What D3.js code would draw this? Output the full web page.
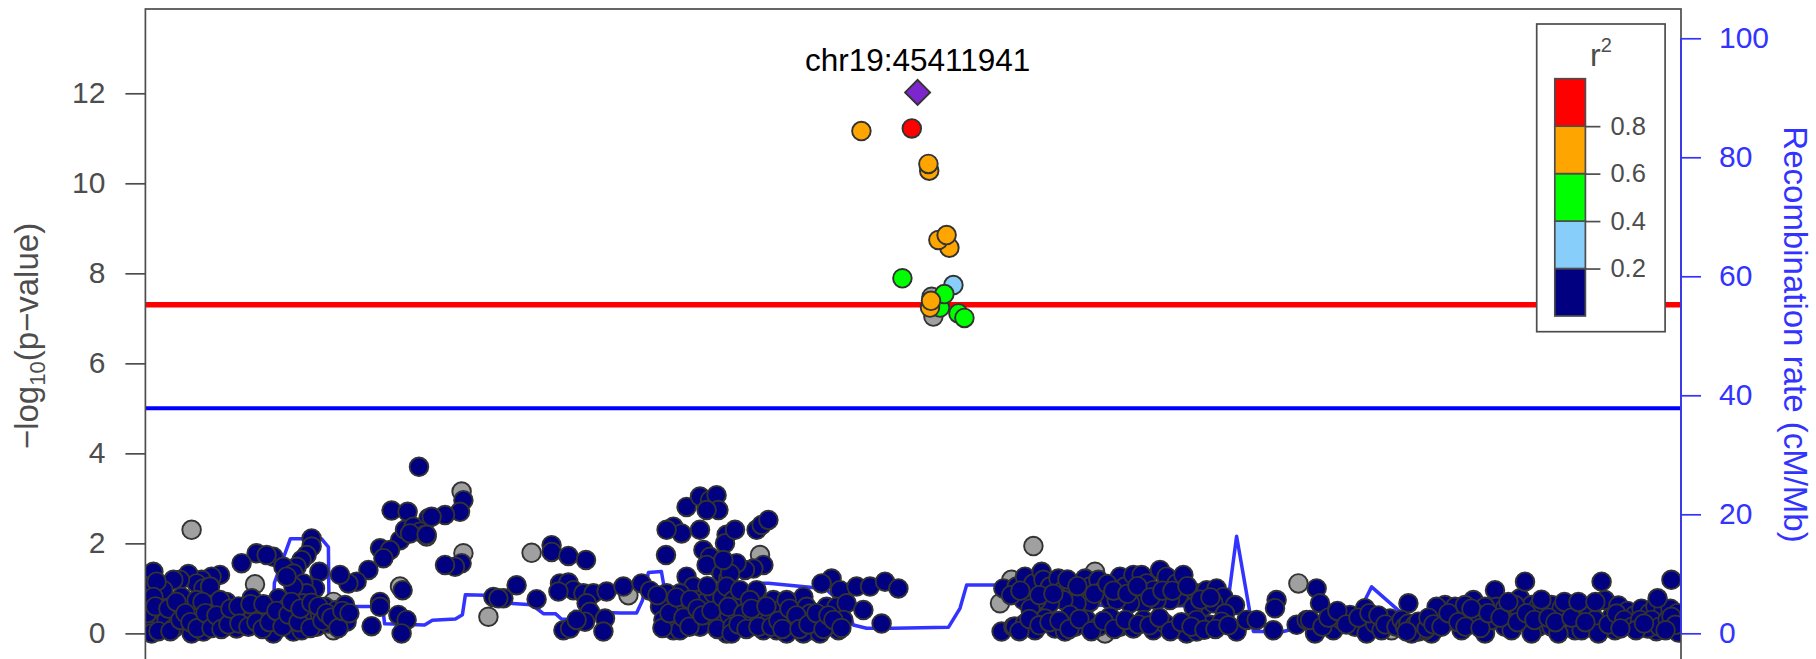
<!DOCTYPE html>
<html>
<head>
<meta charset="utf-8">
<script src="https://cdn.jsdelivr.net/npm/d3@7"></script>
<style>
  html, body { margin: 0; padding: 0; background: #fff; }
  svg text { font-family: "Liberation Sans", Arial, Helvetica, sans-serif; }
</style>
</head>
<body>
<svg id="chart" width="1816" height="659"></svg>
<script>
// positions are kb from the left edge of the plotted region
var regionKb = [0, 767.8];
var leadLabel = "chr19:45411941";
var leadKb = 386.1, leadLogP = 12.02;

var pTicks = [0, 2, 4, 6, 8, 10, 12];
var rateTicks = [0, 20, 40, 60, 80, 100];
var ldTicks = [0.2, 0.4, 0.6, 0.8];
var ldBreaks = [0.2, 0.4, 0.6, 0.8];
var ldColors = ["#000080", "#87CEFA", "#00FF00", "#FFA500", "#FF0000"];
var gwsLine = 7.301, suggestiveLine = 5;

// SNPs with r2 >= 0.2 : [kb, -log10 p, r2]
var snpsLD = [
  [358.0, 11.16, 0.72], [383.2, 11.22, 0.87], [391.5, 10.43, 0.75], [391.9, 10.28, 0.74],
  [396.5, 8.74, 0.66], [400.6, 8.85, 0.68], [402.0, 8.57, 0.65], [378.5, 7.89, 0.52],
  [404.0, 7.74, 0.35], [399.5, 7.54, 0.48], [397.3, 7.24, 0.45], [406.5, 7.11, 0.44],
  [409.5, 7.01, 0.47], [392.3, 7.24, 0.61], [392.8, 7.39, 0.62]
];

// SNPs with no LD information : [kb, -log10 p]
var snpsNoLD = [
  [23.1, 2.30], [54.8, 1.09], [12.3, 0.70], [94.0, 0.07], [127.3, 1.04], [94.0, 0.70],
  [158.1, 3.15], [159.0, 1.78], [193.1, 1.79], [171.5, 0.37], [241.5, 0.85], [140.6, 2.15],
  [307.3, 1.74], [433.0, 1.19], [427.3, 0.67], [444.0, 1.94], [474.8, 1.37], [576.5, 1.11],
  [443.1, 0.63], [479.8, 0.00], [623.1, 0.07], [393.1, 7.48], [394.0, 7.04]
];

// SNPs with r2 < 0.2 : [kb, -log10 p]
var snpsLowLD = [
  [136.8, 3.70], [123.1, 2.73], [131.1, 2.70], [141.5, 2.56], [127.3, 2.07], [129.8, 2.30],
  [134.0, 2.37], [137.3, 2.26], [139.8, 2.19], [132.3, 2.22], [117.3, 1.89], [122.3, 1.85],
  [119.0, 1.67], [111.5, 1.41], [105.6, 1.15], [101.5, 1.11], [97.3, 1.30], [83.1, 2.11],
  [83.1, 1.93], [80.6, 1.74], [78.1, 1.63], [75.6, 1.48], [64.0, 1.70], [55.6, 1.78],
  [60.6, 1.74], [48.1, 1.56], [69.0, 1.48], [74.0, 1.33], [87.0, 1.37], [84.8, 1.00],
  [79.0, 1.11], [80.6, 0.89], [74.0, 1.04], [70.6, 1.26], [37.3, 1.30], [33.1, 1.26],
  [28.1, 1.19], [21.5, 1.32], [25.6, 1.11], [17.3, 1.19], [14.0, 1.19], [9.0, 0.96],
  [4.0, 1.37], [1.5, 1.04], [5.6, 1.15], [29.0, 1.00], [32.3, 1.04], [53.1, 0.78],
  [117.3, 0.70], [117.3, 0.59], [113.1, 0.16], [128.6, 0.96], [126.5, 0.41], [130.6, 0.30],
  [128.1, 0.00],
  [0.6, 0.74], [2.3, 0.30], [3.1, 0.00], [7.3, 0.52], [8.1, 0.19], [10.6, 0.30], [14.0, 0.11],
  [16.5, 0.44], [19.0, 0.19], [21.5, 0.63], [23.1, 0.00], [24.8, 0.30], [27.3, 0.52],
  [29.0, 0.04], [31.5, 0.33], [34.0, 0.59], [36.5, 0.22], [39.0, 0.48], [40.6, 0.70],
  [43.1, 0.30], [45.6, 0.11], [48.1, 0.37], [50.6, 0.52], [54.0, 0.41], [57.3, 0.48],
  [60.6, 0.44], [63.1, 0.63], [64.0, 0.00], [66.5, 0.78], [67.3, 0.37], [70.6, 0.56],
  [72.3, 0.22], [74.0, 0.04], [75.6, 0.41], [78.1, 0.07], [79.0, 0.67], [81.5, 0.30],
  [84.0, 0.48], [85.6, 0.15], [87.3, 0.41], [89.8, 0.59], [91.5, 0.22], [95.6, 0.52],
  [97.3, 0.37], [99.8, 0.63], [100.6, 0.26], [4.0, 0.81], [18.1, 0.81], [25.6, 0.74],
  [37.3, 0.74],
  [1.0, 0.45], [5.0, 0.60], [6.5, 0.05], [11.5, 0.55], [12.5, 0.05], [15.5, 0.70], [17.5, 0.30],
  [20.0, 0.45], [22.5, 0.25], [26.0, 0.12], [28.5, 0.70], [30.0, 0.45], [33.0, 0.12],
  [35.5, 0.40], [38.0, 0.10], [41.5, 0.20], [42.5, 0.55], [46.5, 0.60], [47.0, 0.22],
  [51.5, 0.15], [52.5, 0.65], [55.5, 0.25], [58.5, 0.10], [59.0, 0.65], [62.0, 0.25],
  [65.5, 0.50], [68.5, 0.15], [71.5, 0.42], [73.0, 0.70], [76.5, 0.25], [77.5, 0.55],
  [82.5, 0.12], [83.0, 0.68], [86.5, 0.60], [88.5, 0.28], [90.5, 0.45], [93.0, 0.35],
  [96.5, 0.12], [98.5, 0.50], [102.0, 0.45],
  [159.0, 2.96], [157.3, 2.70], [149.8, 2.63], [143.1, 2.59], [140.6, 2.19], [158.1, 1.56],
  [154.8, 1.48], [149.8, 1.52], [203.1, 1.96], [203.1, 1.81], [211.5, 1.72], [220.3, 1.63],
  [185.6, 1.07], [174.0, 0.81], [179.0, 0.78], [176.5, 0.78], [195.6, 0.76], [207.3, 1.11],
  [211.5, 1.13], [214.0, 0.96], [206.5, 0.93], [219.0, 0.89], [224.0, 0.89], [230.6, 0.93],
  [220.6, 0.67], [222.3, 0.48], [219.8, 0.26], [229.8, 0.33], [229.0, 0.04], [209.0, 0.07],
  [212.3, 0.11], [215.6, 0.30], [239.0, 1.04], [248.1, 1.11], [252.3, 0.95], [260.3, 1.74],
  [270.6, 2.81], [277.3, 3.04], [282.3, 2.96], [285.6, 3.07], [286.5, 2.74], [280.6, 2.74],
  [264.0, 2.37], [268.1, 2.22], [277.3, 2.30], [290.6, 2.19], [289.8, 2.00], [279.0, 1.85],
  [282.3, 1.70], [285.6, 1.48], [280.6, 1.52], [288.1, 1.33], [291.5, 1.22], [270.6, 1.26],
  [274.0, 1.04], [267.3, 0.89], [275.6, 0.74], [270.6, 0.59], [264.0, 0.59], [260.6, 0.89],
  [257.3, 0.59], [259.0, 0.30], [264.0, 0.07], [267.3, 0.07], [274.0, 0.44], [279.0, 0.67],
  [284.0, 0.89], [287.3, 0.59], [290.6, 0.89], [290.6, 0.00], [282.3, 0.30], [277.3, 0.15],
  [285.6, 0.30], [260.6, 2.30],
  [256.0, 0.85], [258.5, 0.12], [262.0, 0.45], [265.5, 0.80], [269.0, 0.35], [272.0, 0.15],
  [272.5, 0.75], [276.0, 0.55], [278.5, 0.40], [281.0, 1.05], [283.0, 0.50], [286.0, 0.10],
  [288.5, 0.80], [292.0, 0.40], [293.5, 0.15],
  [294.8, 2.30], [305.6, 2.30], [308.1, 2.41], [311.5, 2.52], [309.0, 1.52], [304.0, 1.44],
  [299.8, 1.41], [295.6, 1.56], [292.3, 1.33], [290.6, 1.04], [294.0, 0.74], [297.3, 0.96],
  [291.5, 0.59], [305.6, 0.96], [302.3, 0.74], [307.3, 0.52], [304.0, 0.37], [293.1, 0.00],
  [314.0, 0.74], [317.3, 0.52], [312.3, 0.30], [320.6, 0.37], [309.0, 0.07], [315.6, 0.07],
  [324.0, 0.15], [329.0, 0.81], [330.6, 0.59], [327.3, 0.30], [334.0, 0.07], [337.3, 0.30],
  [340.6, 0.59], [343.1, 1.22], [338.1, 1.11], [347.3, 0.96], [345.6, 0.59], [346.5, 0.07],
  [350.6, 0.67], [355.6, 1.04], [362.3, 1.04], [369.8, 1.15], [376.5, 1.00], [359.0, 0.52],
  [368.1, 0.22], [429.0, 1.00], [428.1, 0.04], [434.0, 0.15], [435.6, 0.89], [299.0, 0.44],
  [320.6, 0.74], [332.3, 0.44], [320.6, 0.00], [329.0, 0.00], [337.3, 0.00], [342.3, 0.19],
  [349.0, 0.30], [289.0, 1.63],
  [296.5, 0.20], [300.5, 0.10], [303.0, 0.55], [306.5, 0.15], [310.5, 0.60], [313.0, 0.15],
  [316.5, 0.28], [318.5, 0.10], [322.0, 0.55], [325.5, 0.40], [327.0, 0.10], [331.5, 0.20],
  [335.5, 0.45], [339.0, 0.10], [341.5, 0.40], [344.0, 0.30], [348.0, 0.12],
  [435.6, 1.04], [439.8, 1.26], [444.0, 1.11], [448.1, 1.37], [449.0, 1.19], [452.3, 1.04],
  [456.5, 1.22], [459.0, 0.96], [463.1, 1.07], [467.3, 0.89], [469.8, 1.22], [472.3, 1.04],
  [476.5, 1.19], [479.0, 0.96], [482.3, 0.74], [487.3, 1.26], [489.8, 1.04], [494.0, 1.30],
  [498.1, 1.30], [500.6, 1.11], [504.0, 0.96], [507.3, 1.41], [510.6, 1.26], [515.6, 1.11],
  [519.0, 1.30], [516.5, 0.81], [512.3, 0.74], [505.6, 0.74], [499.0, 0.67], [492.3, 0.67],
  [485.6, 0.74], [472.3, 0.70], [465.6, 0.67], [459.0, 0.74], [452.3, 0.67], [445.6, 0.74],
  [439.0, 0.74], [525.6, 0.89], [530.6, 0.96], [535.6, 1.00], [539.0, 0.81], [544.8, 0.63],
  [529.0, 0.59], [534.0, 0.67], [524.0, 0.59], [539.8, 0.44], [432.8, 0.85],
  [437.5, 0.95], [442.5, 0.55], [447.0, 0.85], [454.0, 0.88], [461.0, 1.20], [466.0, 1.05],
  [474.5, 0.88], [481.0, 1.10], [484.0, 0.95], [491.0, 0.88], [496.0, 1.05], [502.5, 0.80],
  [508.5, 0.95], [513.5, 0.95], [521.0, 1.05], [527.5, 0.75], [532.5, 0.80],
  [434.8, 0.15], [439.8, 0.22], [444.8, 0.07], [449.8, 0.33], [454.8, 0.11], [459.8, 0.04],
  [464.8, 0.15], [470.6, 0.30], [476.5, 0.15], [487.3, 0.15], [494.0, 0.11], [499.0, 0.30],
  [504.0, 0.07], [509.8, 0.22], [515.6, 0.11], [520.6, 0.00], [525.6, 0.04], [532.3, 0.19],
  [538.1, 0.26], [545.6, 0.04], [550.6, 0.30], [555.6, 0.30], [564.0, 0.07], [565.6, 0.74],
  [564.8, 0.56], [575.6, 0.19], [580.6, 0.30], [584.8, 0.00], [585.6, 1.00], [587.3, 0.67],
  [482.3, 0.37], [462.3, 0.41], [525.6, 0.30],
  [437.0, 0.05], [442.0, 0.32], [447.0, 0.18], [452.0, 0.25], [457.0, 0.28], [462.0, 0.10],
  [467.0, 0.32], [473.0, 0.05], [479.0, 0.28], [484.5, 0.10], [490.0, 0.30], [496.5, 0.20],
  [502.0, 0.18], [507.0, 0.35], [512.5, 0.05], [518.0, 0.25], [523.0, 0.15], [529.5, 0.08],
  [535.0, 0.10], [541.5, 0.18],
  [582.3, 0.30], [594.0, 0.07], [598.1, 0.30], [602.3, 0.41], [604.8, 0.15], [609.8, 0.56],
  [610.6, 0.00], [614.8, 0.22], [618.1, 0.07], [622.3, 0.33], [631.5, 0.67], [643.1, 0.00],
  [646.5, 0.44], [649.8, 0.63], [653.1, 0.30], [658.1, 0.07], [661.5, 0.41], [664.0, 0.74],
  [666.5, 0.30], [669.8, 0.00], [674.8, 0.96], [675.6, 0.59], [679.8, 0.15], [683.1, 0.44],
  [687.3, 0.78], [689.8, 1.15], [688.1, 0.30], [693.1, 0.63], [696.5, 0.15], [699.8, 0.59],
  [703.1, 0.15], [706.5, 0.52], [711.5, 0.48], [714.8, 0.07], [718.1, 0.56], [723.1, 0.44],
  [728.1, 1.15], [729.8, 0.74], [733.1, 0.37], [734.8, 0.07], [645.6, 0.59], [654.8, 0.59],
  [659.8, 0.63], [669.8, 0.59], [679.8, 0.56], [684.8, 0.63], [696.5, 0.59], [703.1, 0.63],
  [708.1, 0.56], [721.5, 0.59], [724.8, 0.30], [673.1, 0.30], [683.1, 0.07], [693.1, 0.00],
  [706.5, 0.00], [718.1, 0.07], [726.5, 0.00],
  [588.5, 0.15], [591.5, 0.35], [596.0, 0.50], [600.5, 0.20], [606.5, 0.35], [612.0, 0.45],
  [616.5, 0.40], [620.0, 0.20], [625.5, 0.15],
  [628.1, 0.30], [629.8, 0.15], [631.5, 0.22], [633.1, 0.07], [634.8, 0.19], [636.5, 0.04],
  [638.1, 0.15], [639.8, 0.07], [633.1, 0.00], [636.5, 0.26], [630.6, 0.04], [640.6, 0.11],
  [641.5, 0.35], [644.0, 0.20], [648.0, 0.15], [651.5, 0.45], [656.5, 0.25], [660.0, 0.15],
  [663.0, 0.55], [667.5, 0.12], [671.5, 0.45], [677.5, 0.35], [681.5, 0.70], [686.0, 0.25],
  [690.5, 0.45], [694.5, 0.30], [698.0, 0.75], [701.5, 0.35], [705.0, 0.25], [709.5, 0.70],
  [713.0, 0.35], [716.5, 0.70], [720.0, 0.25], [725.0, 0.70], [731.5, 0.20], [736.5, 0.62],
  [741.0, 0.50], [744.5, 0.40], [748.0, 0.55], [752.0, 0.45], [755.0, 0.60], [759.0, 0.50],
  [762.5, 0.55], [766.0, 0.45], [755.5, 0.05], [766.5, 0.02],
  [756.1, 0.78], [763.0, 1.19], [735.5, 0.44], [739.4, 0.30], [743.4, 0.15], [747.3, 0.30],
  [751.2, 0.11], [753.2, 0.30], [757.1, 0.15], [761.1, 0.30], [763.0, 0.37], [765.0, 0.19],
  [760.1, 0.07], [745.3, 0.07], [737.5, 0.11], [749.3, 0.22]
];

// recombination rate : [kb, cM/Mb]
var recombRate = [
  [0, 0.6], [49.7, 0.6], [63.5, 0.6], [64.5, 8.5], [72.5, 15.9], [88.0, 15.9], [91.5, 14.5],
  [91.8, 4.5], [118.6, 4.5], [119.6, 1.6], [139.6, 1.4], [143.5, 2.2], [155.0, 2.4],
  [158.5, 3.1], [160.0, 6.5], [170.0, 6.4], [183.6, 5.0], [193.2, 4.8], [199.0, 3.3],
  [205.0, 3.3], [208.0, 2.4], [213.5, 2.3], [214.5, 3.7], [237.3, 3.4], [245.6, 3.4],
  [248.5, 5.5], [251.5, 10.2], [258.0, 10.4], [259.5, 7.5], [266.0, 2.0], [292.3, 2.0],
  [298.0, 1.7], [300.6, 4.5], [304.0, 8.4], [311.5, 8.4], [340.0, 7.5], [350.0, 4.5],
  [354.0, 1.4], [360.6, 0.84], [374.0, 0.84], [401.5, 1.0], [407.3, 4.2], [410.6, 8.1],
  [426.3, 8.1], [434.0, 6.0], [438.0, 4.2], [441.0, 4.8], [541.0, 4.6], [545.6, 16.3],
  [552.3, 3.4], [554.0, 0.3], [569.0, 0.3], [575.0, 0.8], [600.0, 1.2], [609.8, 5.6],
  [613.1, 7.8], [628.1, 3.4], [640.0, 1.0], [767.8, 0.8]
];

var svg = d3.select("#chart"),
    plot = { left: 145.4, right: 1681, top: 9, bottom: 663 },
    axisGrey = "#4d4d4d",
    rateBlue = "#3333ff",
    pointR = 9.3;

var x = d3.scaleLinear().domain(regionKb).range([plot.left, plot.right]),
    y = d3.scaleLinear().domain([-0.658, 13.873]).range([plot.bottom, plot.top]),
    yRate = d3.scaleLinear().domain([-4.99, 104.92]).range([plot.bottom, plot.top]),
    ldColor = d3.scaleThreshold().domain(ldBreaks).range(ldColors);

svg.append("defs").append("clipPath")
    .attr("id", "plot-clip")
  .append("rect")
    .attr("x", plot.left)
    .attr("y", plot.top)
    .attr("width", plot.right - plot.left)
    .attr("height", plot.bottom - plot.top);

var g = svg.append("g").attr("clip-path", "url(#plot-clip)");

// threshold lines
g.append("line")
    .attr("x1", plot.left).attr("x2", plot.right)
    .attr("y1", y(gwsLine)).attr("y2", y(gwsLine))
    .attr("stroke", "#ff0000").attr("stroke-width", 5.5);

g.append("line")
    .attr("x1", plot.left).attr("x2", plot.right)
    .attr("y1", y(suggestiveLine)).attr("y2", y(suggestiveLine))
    .attr("stroke", "#0000ff").attr("stroke-width", 4);

// recombination rate
g.append("path")
    .datum(recombRate)
    .attr("fill", "none")
    .attr("stroke", rateBlue)
    .attr("stroke-width", 3.5)
    .attr("stroke-linejoin", "round")
    .attr("d", d3.line().x(function (d) { return x(d[0]); }).y(function (d) { return yRate(d[1]); }));

function drawPoints(data, fill) {
    g.append("g").selectAll("circle")
        .data(data)
        .enter().append("circle")
        .attr("cx", function (d) { return x(d[0]); })
        .attr("cy", function (d) { return y(d[1]); })
        .attr("r", pointR)
        .attr("fill", fill)
        .attr("stroke", "#333333")
        .attr("stroke-width", 1.9);
}

drawPoints(snpsNoLD, "#a0a0a0");
drawPoints(snpsLowLD, ldColors[0]);
drawPoints(snpsLD.slice().sort(function (a, b) { return a[2] - b[2]; }), function (d) { return ldColor(d[2]); });

// lead SNP
g.append("path")
    .attr("transform", "translate(" + x(leadKb) + "," + y(leadLogP) + ")")
    .attr("d", "M0,-12.5L12.5,0L0,12.5L-12.5,0Z")
    .attr("fill", "#7d26cd")
    .attr("stroke", "#333333")
    .attr("stroke-width", 1.9);

svg.append("text")
    .attr("x", x(leadKb))
    .attr("y", y(leadLogP) - 21.6)
    .attr("text-anchor", "middle")
    .attr("font-size", 31.5)
    .attr("fill", "#000")
    .text(leadLabel);

// box
svg.append("rect")
    .attr("x", plot.left)
    .attr("y", plot.top)
    .attr("width", plot.right - plot.left)
    .attr("height", plot.bottom - plot.top)
    .attr("fill", "none")
    .attr("stroke", axisGrey)
    .attr("stroke-width", 1.7);

// left axis
var leftAxis = svg.append("g")
    .attr("transform", "translate(" + plot.left + ",0)")
    .call(d3.axisLeft(y).tickValues(pTicks).tickSize(20).tickPadding(20).tickSizeOuter(0));
leftAxis.select(".domain").remove();
leftAxis.selectAll("line").attr("stroke", axisGrey).attr("stroke-width", 1.7);
leftAxis.selectAll("text")
    .attr("fill", axisGrey)
    .attr("font-size", 30)
    .attr("font-family", "Liberation Sans, Arial, sans-serif");

svg.append("text")
    .attr("transform", "translate(38," + ((plot.top + plot.bottom) / 2) + ") rotate(-90)")
    .attr("text-anchor", "middle")
    .attr("font-size", 33)
    .attr("fill", axisGrey)
    .call(function (t) {
        t.append("tspan").text("\u2212log");
        t.append("tspan").attr("font-size", 22).attr("dy", 7).text("10");
        t.append("tspan").attr("dy", -7).text("(p\u2212value)");
    });

// right axis
var rightAxis = svg.append("g")
    .attr("transform", "translate(" + plot.right + ",0)")
    .call(d3.axisRight(yRate).tickValues(rateTicks).tickSize(20).tickPadding(18).tickSizeOuter(0));
rightAxis.select(".domain").remove();
rightAxis.append("line")
    .attr("y1", yRate(rateTicks[0]))
    .attr("y2", yRate(rateTicks[rateTicks.length - 1]))
    .attr("stroke", rateBlue)
    .attr("stroke-width", 1.7);
rightAxis.selectAll(".tick line").attr("stroke", rateBlue).attr("stroke-width", 1.7);
rightAxis.selectAll("text")
    .attr("fill", rateBlue)
    .attr("font-size", 30)
    .attr("font-family", "Liberation Sans, Arial, sans-serif");

svg.append("text")
    .attr("transform", "translate(1784," + ((plot.top + plot.bottom) / 2 - 1.5) + ") rotate(90)")
    .attr("text-anchor", "middle")
    .attr("font-size", 33)
    .attr("fill", rateBlue)
    .text("Recombination rate (cM/Mb)");

// r2 legend
var legend = { x: 1536.7, y: 24, w: 128.4, h: 307.7, barX: 1554.8, barW: 30.6 };
var ly = d3.scaleLinear().domain([0, 1]).range([316, 78.7]);
var bands = [0].concat(ldBreaks).map(function (lo, i, a) {
    return { lo: lo, hi: i + 1 < a.length ? a[i + 1] : 1, color: ldColors[i] };
});

svg.append("rect")
    .attr("x", legend.x).attr("y", legend.y)
    .attr("width", legend.w).attr("height", legend.h)
    .attr("fill", "#fff")
    .attr("stroke", axisGrey)
    .attr("stroke-width", 1.7);

svg.append("g").selectAll("rect")
    .data(bands)
    .enter().append("rect")
    .attr("x", legend.barX)
    .attr("y", function (d) { return ly(d.hi); })
    .attr("width", legend.barW)
    .attr("height", function (d) { return ly(d.lo) - ly(d.hi); })
    .attr("fill", function (d) { return d.color; })
    .attr("stroke", axisGrey)
    .attr("stroke-width", 1.7);

var legendAxis = svg.append("g")
    .attr("transform", "translate(" + (legend.barX + legend.barW) + ",0)")
    .call(d3.axisRight(ly).tickValues(ldTicks).tickSize(15).tickPadding(10).tickSizeOuter(0));
legendAxis.select(".domain").remove();
legendAxis.selectAll("line").attr("stroke", axisGrey).attr("stroke-width", 1.7);
legendAxis.selectAll("text")
    .attr("fill", axisGrey)
    .attr("font-size", 25.5)
    .attr("font-family", "Liberation Sans, Arial, sans-serif");

svg.append("text")
    .attr("x", legend.x + legend.w / 2)
    .attr("y", 66)
    .attr("text-anchor", "middle")
    .attr("fill", axisGrey)
    .attr("font-size", 32)
    .call(function (t) {
        t.append("tspan").text("r");
        t.append("tspan").attr("font-size", 20).attr("dy", -14).text("2");
    });
</script>
</body>
</html>
